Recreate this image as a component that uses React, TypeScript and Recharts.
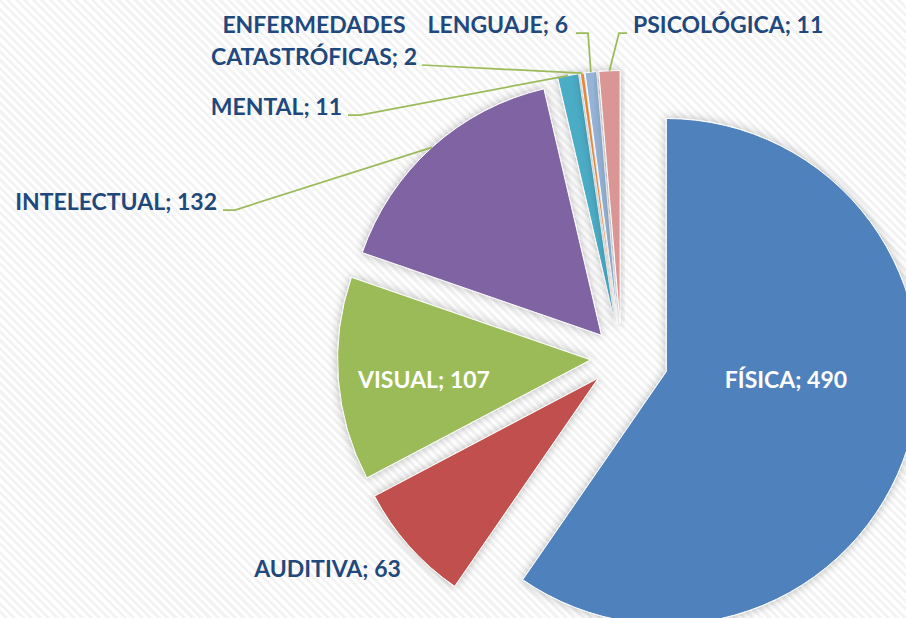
import React from 'react';
import { PieChart, Pie, Sector } from 'recharts';

// ---- data ----
const categories = [
  'FÍSICA',
  'AUDITIVA',
  'VISUAL',
  'INTELECTUAL',
  'MENTAL',
  'ENFERMEDADES CATASTRÓFICAS',
  'LENGUAJE',
  'PSICOLÓGICA',
];
const values = [490, 63, 107, 132, 11, 2, 6, 11];

// ---- style ----
const colors = ['#4F81BD', '#C0504D', '#9BBB59', '#8064A2', '#4BACC6', '#F79646', '#95B3D7', '#D99694'];
const explode = [47, 31, 31, 30, 34, 34, 34, 34];
const wrapLabel = [false, false, false, false, false, true, false, false];

type LabelLayout = {
  x: number;
  y: number;
  anchor: 'start' | 'middle' | 'end';
  inside: boolean;
  leader: [number, number][];
};
// label positions relative to pie centre
const layout: LabelLayout[] = [
  { x: 164.5, y: 30.5, anchor: 'middle', inside: true, leader: [] },
  { x: -294, y: 219.5, anchor: 'middle', inside: false, leader: [] },
  { x: -197.5, y: 30.5, anchor: 'middle', inside: true, leader: [] },
  { x: -404.5, y: -147.5, anchor: 'end', inside: false, leader: [[-398.5, -147.5], [-386.5, -147.5]] },
  { x: -279.5, y: -242.5, anchor: 'end', inside: false, leader: [[-273.5, -242.5], [-261.5, -242.5]] },
  { x: -307.5, y: -324.5, anchor: 'middle', inside: false, leader: [[-199.5, -292.5]] },
  { x: -53.5, y: -324.5, anchor: 'end', inside: false, leader: [[-45.5, -324.5], [-33.5, -324.5]] },
  { x: 11.5, y: -324.5, anchor: 'start', inside: false, leader: [[5.5, -324.5], [-2.5, -324.5]] },
];

const data = categories.map((name, i) => ({ name, value: values[i] }));

const RAD = Math.PI / 180;
const FONT = 'Lato, "Open Sans", sans-serif';
const FONT_SIZE = 23;

function offsetCenter(props: any) {
  const { cx, cy, startAngle, endAngle, index } = props;
  const mid = (startAngle + endAngle) / 2;
  const d = explode[index];
  return { ox: cx + d * Math.cos(mid * RAD), oy: cy - d * Math.sin(mid * RAD), mid };
}

function SliceLabel(props: any) {
  const { startAngle, endAngle, outerRadius, index } = props;
  const { ox, oy } = offsetCenter(props);
  return (
    <Sector
      cx={ox}
      cy={oy}
      innerRadius={0}
      outerRadius={outerRadius}
      startAngle={startAngle}
      endAngle={endAngle}
      fill={colors[index]}
      stroke="#ffffff"
      strokeWidth={1}
      filter="url(#sliceShadow)"
    />
  );
}

function TextLabel(props: any) {
  const { cx, cy, outerRadius, index } = props;
  const L = layout[index];
  const { ox, oy, mid } = offsetCenter(props);
  const sx = ox + outerRadius * Math.cos(mid * RAD);
  const sy = oy - outerRadius * Math.sin(mid * RAD);
  const tx = cx + L.x;
  const ty = cy + L.y;
  const text = `${categories[index]}; ${values[index]}`;
  let lines = [text];
  if (wrapLabel[index]) {
    const sp = text.indexOf(' ');
    lines = [text.slice(0, sp), text.slice(sp + 1)];
  }
  const pts = L.leader.map(([px, py]) => `${cx + px},${cy + py}`);
  return (
    <g>
      {L.leader.length > 0 && (
        <polyline
          points={[...pts, `${sx},${sy}`].join(' ')}
          fill="none"
          stroke="#9BBB59"
          strokeWidth={1.75}
        />
      )}
      <text
        x={tx}
        y={ty}
        textAnchor={L.anchor}
        fill={L.inside ? '#FFFFFF' : '#1F497D'}
        fontFamily={FONT}
        fontWeight={700}
        fontSize={FONT_SIZE}
      >
        {lines.map((ln, i) => (
          <tspan key={i} x={tx} dy={i === 0 ? 0 : 32}>
            {ln}
          </tspan>
        ))}
      </text>
    </g>
  );
}

export default function App() {
  return (
    <div
      style={{
        position: 'absolute',
        left: 0,
        top: 0,
        width: 906,
        height: 618,
        overflow: 'hidden',
        background:
          'repeating-linear-gradient(45deg, #ffffff 0px, #ffffff 3px, #f3f3f3 3px, #f3f3f3 6px)',
      }}
    >
      <svg width={0} height={0} style={{ position: 'absolute' }}>
        <defs>
          <filter id="sliceShadow" x="-20%" y="-20%" width="140%" height="140%">
            <feDropShadow dx="0" dy="0" stdDeviation="5" floodColor="#000000" floodOpacity="0.28" />
          </filter>
        </defs>
      </svg>
      <PieChart width={906} height={618}>
        <Pie
          data={data}
          dataKey="value"
          nameKey="name"
          cx={616.5}
          cy={352.5}
          innerRadius={0}
          outerRadius={253}
          startAngle={90}
          endAngle={-270}
          fill="none"
          stroke="none"
          labelLine={false}
          label={SliceLabel}
          isAnimationActive={false}
        />
        <Pie
          data={data}
          dataKey="value"
          nameKey="name"
          cx={616.5}
          cy={352.5}
          innerRadius={0}
          outerRadius={253}
          startAngle={90}
          endAngle={-270}
          fill="none"
          stroke="none"
          labelLine={false}
          label={TextLabel}
          isAnimationActive={false}
        />
      </PieChart>
    </div>
  );
}
